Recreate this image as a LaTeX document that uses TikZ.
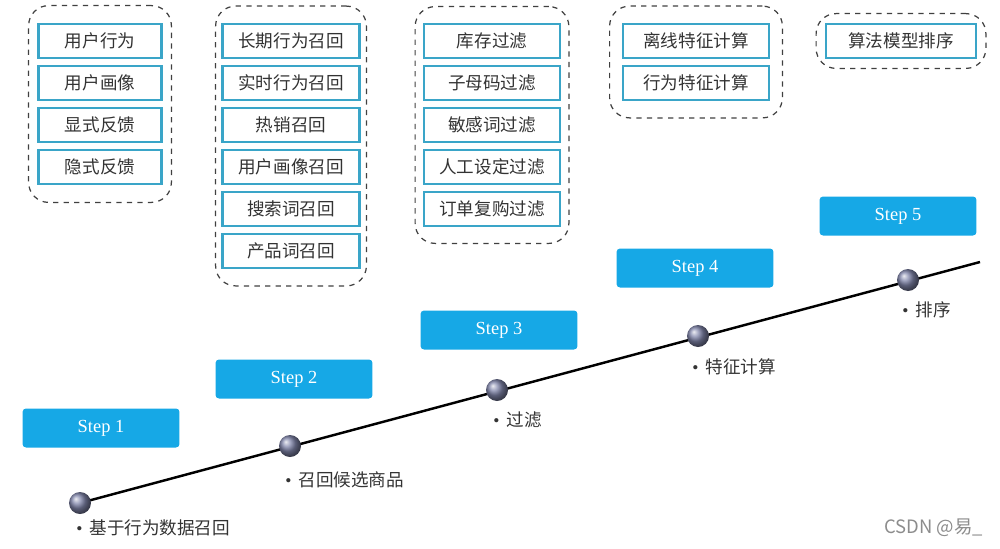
\documentclass[tikz,border=0pt]{standalone}
\usepackage{fontspec}
\setmainfont{Liberation Serif}
\newfontfamily\cjk{Noto Sans CJK SC}
\usetikzlibrary{fit,backgrounds}
\definecolor{Stepblue}{RGB}{22,168,230}
\definecolor{Boxblue}{RGB}{58,165,200}
\definecolor{Ballgray}{RGB}{128,133,170}
\definecolor{Textgray}{RGB}{51,51,51}
\newcommand{\dotmark}{{\rmfamily •}\hspace{4pt}}

\begin{document}
\begin{tikzpicture}[x=0.02cm,y=-0.02cm,
  item/.style={draw=Boxblue,line width=1.6pt,fill=white,minimum height=0.68cm,inner sep=0pt,
    font=\cjk\fontsize{10}{12}\selectfont,text=Textgray},
  group/.style={draw=black!75,dashed,line width=0.7pt,rounded corners=0.4cm},
  stepbox/.style={fill=Stepblue,rounded corners=2pt,minimum width=3.14cm,minimum height=0.78cm,
    inner sep=0pt,text=white,font=\fontsize{10.5}{12}\selectfont},
  ball/.style={circle,minimum size=0.44cm,inner sep=0pt,shading=ball,ball color=Ballgray},
  point/.style={anchor=west,inner sep=0pt,font=\cjk\fontsize{10}{12}\selectfont,text=Textgray}]
\useasboundingbox (0,0) rectangle (1000,548);
% data sources
\node[item,minimum width=2.46cm] (src1) at (100,41) {用户行为};
\node[item,minimum width=2.46cm] (src2) at (100,83) {用户画像};
\node[item,minimum width=2.46cm] (src3) at (100,125) {显式反馈};
\node[item,minimum width=2.46cm] (src4) at (100,167) {隐式反馈};
\node[group,fit=(src1)(src4),inner xsep=0.17cm,inner ysep=0.34cm] (srcgroup) {};
% recall
\node[item,minimum width=2.74cm] (rec1) at (291,41) {长期行为召回};
\node[item,minimum width=2.74cm] (rec2) at (291,83) {实时行为召回};
\node[item,minimum width=2.74cm] (rec3) at (291,125) {热销召回};
\node[item,minimum width=2.74cm] (rec4) at (291,167) {用户画像召回};
\node[item,minimum width=2.74cm] (rec5) at (291,209) {搜索词召回};
\node[item,minimum width=2.74cm] (rec6) at (291,251) {产品词召回};
\node[group,fit=(rec1)(rec6),inner xsep=0.11cm,inner ysep=0.33cm] (recgroup) {};
% filter
\node[item,minimum width=2.72cm] (flt1) at (492,41) {库存过滤};
\node[item,minimum width=2.72cm] (flt2) at (492,83) {子母码过滤};
\node[item,minimum width=2.72cm] (flt3) at (492,125) {敏感词过滤};
\node[item,minimum width=2.72cm] (flt4) at (492,167) {人工设定过滤};
\node[item,minimum width=2.72cm] (flt5) at (492,209) {订单复购过滤};
\node[group,fit=(flt1)(flt5),inner xsep=0.15cm,inner ysep=0.32cm] (fltgroup) {};
% features
\node[item,minimum width=2.92cm] (fea1) at (696,41) {离线特征计算};
\node[item,minimum width=2.92cm] (fea2) at (696,83) {行为特征计算};
\node[group,fit=(fea1)(fea2),inner xsep=0.24cm,inner ysep=0.33cm] (feagroup) {};
% ranking
\node[item,minimum width=3.0cm] (rnk1) at (901,41) {算法模型排序};
\node[group,fit=(rnk1),inner xsep=0.17cm,inner ysep=0.18cm] (rnkgroup) {};
% steps
\node[stepbox] (step1) at (101,428) {Step 1};
\node[stepbox] (step2) at (294,379) {Step 2};
\node[stepbox] (step3) at (499,330) {Step 3};
\node[stepbox] (step4) at (695,268) {Step 4};
\node[stepbox] (step5) at (898,216) {Step 5};
% timeline
\node[ball] (b1) at (80,503) {};
\node[ball] (b2) at (290,446) {};
\node[ball] (b3) at (497,390) {};
\node[ball] (b4) at (698,336) {};
\node[ball] (b5) at (908,280) {};
\coordinate (lineend) at (980,262);
\begin{scope}[on background layer]
\draw[line width=1.4pt] (b1.center) -- (lineend);
\end{scope}
\node[point] (lab1) at (76,528) {\dotmark 基于行为数据召回};
\node[point] (lab2) at (285,480) {\dotmark 召回候选商品};
\node[point] (lab3) at (493,420) {\dotmark 过滤};
\node[point] (lab4) at (692,367) {\dotmark 特征计算};
\node[point] (lab5) at (902,310) {\dotmark 排序};
\node[point,text=black!45,font=\cjk\fontsize{10.5}{12}\selectfont] (mark) at (884,528) {CSDN @易\_};
\end{tikzpicture}
\end{document}
